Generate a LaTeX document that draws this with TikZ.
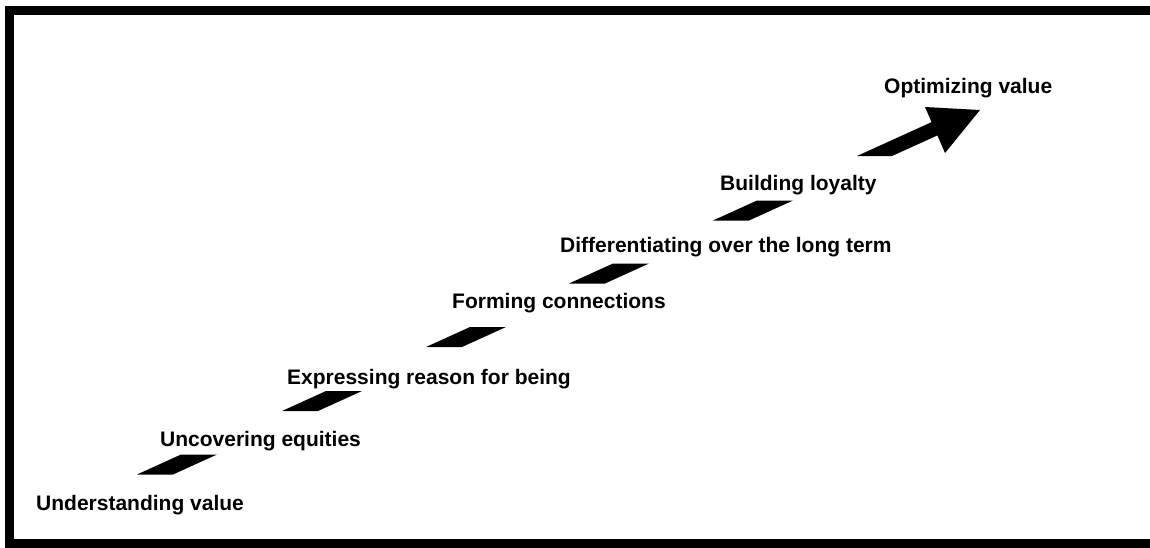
\documentclass[tikz,border=0pt]{standalone}
\usepackage{fontspec}
\setmainfont{Liberation Sans}

\begin{document}
\begin{tikzpicture}[
                x=1pt, y=-1pt,
                every node/.style={
                  font=\fontsize{21}{25}\selectfont\bfseries,
                  anchor=base west,
                  inner sep=0pt,
                },
                stair/.style={fill=black},
              ]
              \useasboundingbox (0,0) rectangle (1150,547);
              \draw[line width=9pt] (9.5,10.5) rectangle (1160,543.5);
              \node (understand) at (36,510) {Understanding value} ;
              \node (uncover) at (160,446) {Uncovering equities} ;
              \node (express) at (287,384) {Expressing reason for being} ;
              \node (form) at (452,308) {Forming connections} ;
              \node (differ) at (560,252) {Differentiating over the long term} ;
              \node (loyal) at (720,190) {Building loyalty} ;
              \node (optim) at (884,93) {Optimizing value} ;
              \foreach \cx/\cy in {177/464.5, 322/401, 466/337, 609/273.5, 753/210.5}
                \fill[stair] (\cx-40,\cy+10) -- ++(36,0) -- ++(44,-20) -- ++(-36,0) -- cycle ;
              \fill[stair] (857,156) -- (931.6,122.1) -- (925,107) -- (980,110)
                -- (945,153) -- (937.4,135.4) -- (892,156) -- cycle ;
              \end{tikzpicture}
\end{document}
